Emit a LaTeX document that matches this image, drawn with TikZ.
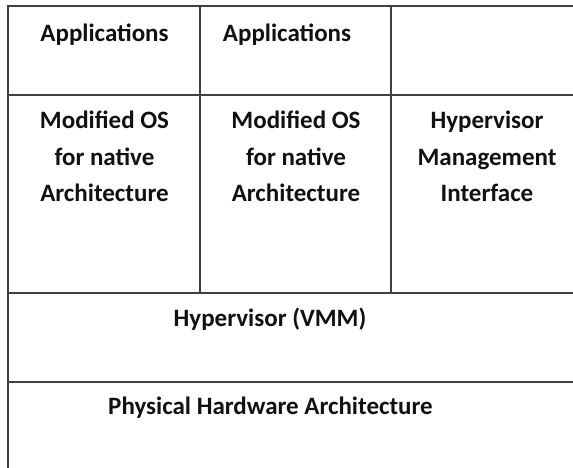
\documentclass[tikz,border=0pt]{standalone}
\usepackage{fontspec}
\setmainfont{Carlito}
\definecolor{gridline}{HTML}{404040}
\definecolor{txt}{HTML}{111111}
\tikzset{
  grid/.style={draw=gridline, line width=2pt},
  lbl/.style={font=\bfseries\fontsize{25}{36.5}\selectfont, text=txt, inner sep=0pt, align=center, anchor=base}
}
\begin{document}
\begin{tikzpicture}[x=1pt,y=1pt]
\useasboundingbox (0,0) rectangle (573,468);
% grid lines (y measured from top: Y -> 468-Y)
\draw[grid] (573,462) -- (8,462) -- (8,-2);
\draw[grid] (200,462) -- (200,175);
\draw[grid] (391,462) -- (391,175);
\draw[grid] (8,373) -- (575,373);
\draw[grid] (8,175) -- (575,175);
\draw[grid] (8,86) -- (575,86);
% labels (multi-line nodes: base = last line's baseline)
\node[lbl] (app1) at (104.5,426) {Applications};
\node[lbl] (app2) at (287,426) {Applications};
\node[lbl] (os1) at (104.5,266.3) {Modified OS\\for native\\Architecture};
\node[lbl] (os2) at (296,266.3) {Modified OS\\for native\\Architecture};
\node[lbl] (hmi) at (487,266.3) {Hypervisor\\Management\\Interface};
\node[lbl] (vmm) at (270,141) {Hypervisor (VMM)};
\node[lbl] (hw) at (270.5,53) {Physical Hardware Architecture};
\end{tikzpicture}
\end{document}
